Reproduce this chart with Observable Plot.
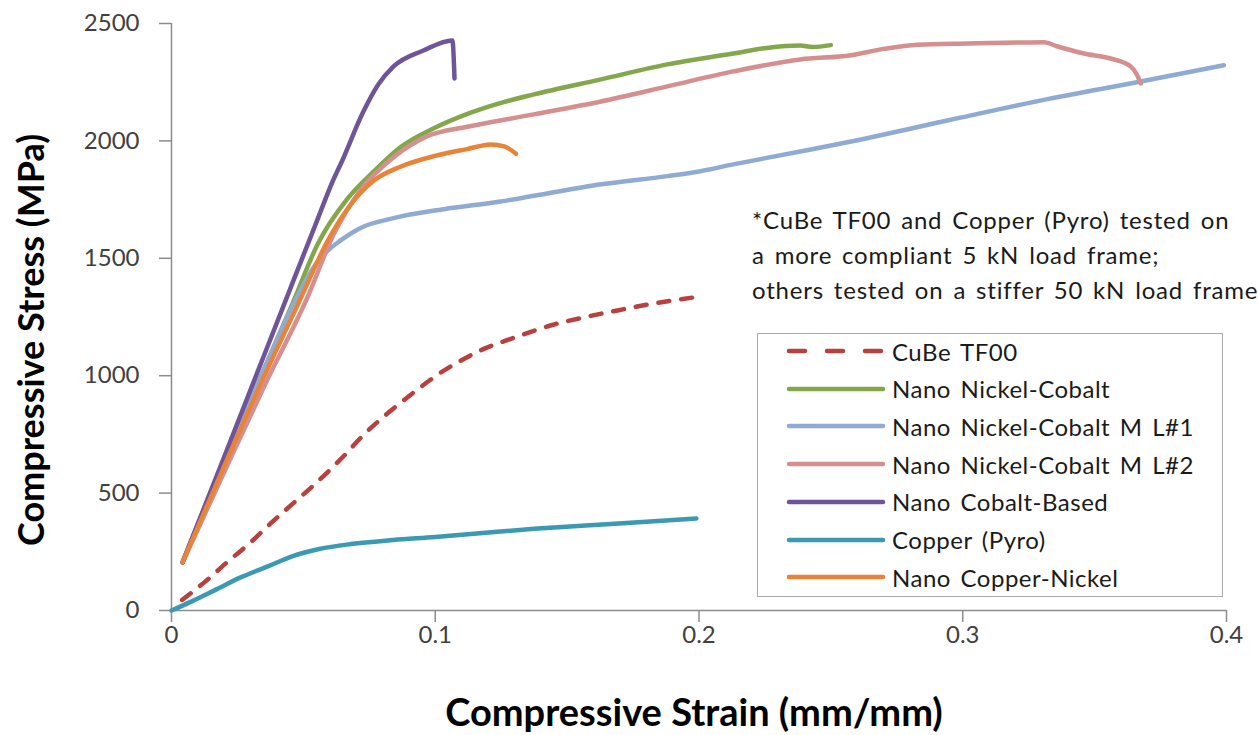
<!DOCTYPE html>
<html><head><meta charset="utf-8">
<script src="https://cdn.jsdelivr.net/npm/d3@7"></script>
<script src="https://cdn.jsdelivr.net/npm/@observablehq/plot@0.6"></script>
<style>
body{margin:0;background:#fff;}
#wrap{position:relative;width:1258px;height:735px;overflow:hidden;font-family:Lato,"Open Sans",sans-serif;}
#note{position:absolute;left:752px;top:202px;font-size:24px;line-height:35px;letter-spacing:0.8px;word-spacing:3px;color:#1a1a1a;white-space:nowrap;}
#legend{position:absolute;left:757px;top:333px;width:464px;height:262px;border:1.5px solid #a9a9a9;background:#fff;}
.li{position:absolute;left:0;height:30px;display:flex;align-items:center;font-size:24px;letter-spacing:0.5px;word-spacing:3px;color:#1a1a1a;white-space:nowrap;}
.li svg{margin-left:28px;margin-right:6px;}
</style></head><body><div id="wrap"></div>
<script>
const seriesNames = ["CuBe TF00","Nano Nickel-Cobalt","Nano Nickel-Cobalt M L#1","Nano Nickel-Cobalt M L#2","Nano Cobalt-Based","Copper (Pyro)","Nano Copper-Nickel"];
const seriesColors = ["#b8413f","#83a74a","#8faad3","#d58f8f","#6f5597","#3b9ab2","#e8843a"];
const xTicks = [0,0.1,0.2,0.3,0.4];
const yTicks = [0,500,1000,1500,2000,2500];
const xTitle = "Compressive Strain (mm/mm)";
const yTitle = "Compressive Stress (MPa)";
const noteLines = ["*CuBe TF00 and Copper (Pyro) tested on","a more compliant 5 kN load frame;","others tested on a stiffer 50 kN load frame"];

const cubeStrain  = [0.004,0.013,0.021,0.030,0.038,0.046,0.055,0.0655,0.073,0.0825,0.092,0.101,0.109,0.118,0.130,0.144,0.157,0.170,0.183,0.199];
const cubeStress  = [45,125,205,290,375,455,545,660,750,845,930,1005,1060,1112,1162,1215,1250,1280,1308,1335];

const nicoStrain  = [0.0042,0.020,0.034,0.046,0.0554,0.0669,0.0768,0.087,0.0995,0.1122,0.1249,0.1374,0.1628,0.188,0.213,0.2258,0.2384,0.243,0.25];
const nicoStress  = [205,640,1000,1310,1560,1756,1871,1975,2054,2115,2162,2198,2262,2326,2372,2396,2406,2400,2408];

const ml1Strain   = [0.0042,0.020,0.034,0.046,0.055,0.060,0.064,0.0717,0.0842,0.1032,0.1248,0.1374,0.163,0.188,0.200,0.213,0.2384,0.261,0.2954,0.333,0.366,0.399];
const ml1Stress   = [205,640,1000,1300,1480,1540,1575,1629,1671,1709,1742,1766,1815,1850,1870,1900,1955,2005,2090,2180,2250,2322];

const ml2Strain   = [0.0042,0.020,0.036,0.0516,0.0614,0.0717,0.0842,0.097,0.1122,0.1374,0.1628,0.188,0.213,0.2384,0.2576,0.270,0.283,0.302,0.321,0.3308,0.336,0.346,0.356,0.3637,0.366,0.3675];
const ml2Stress   = [205,590,975,1335,1600,1790,1930,2020,2060,2113,2168,2232,2296,2347,2365,2392,2410,2415,2419,2420,2402,2372,2351,2317,2283,2245];

const coStrain    = [0.0042,0.020,0.0313,0.045,0.055,0.061,0.0645,0.0728,0.0784,0.0842,0.0955,0.1065,0.1073];
const coStress    = [205,655,978,1370,1655,1825,1910,2126,2240,2317,2385,2428,2266];

const cuStrain    = [0,0.0079,0.017,0.026,0.037,0.046,0.056,0.068,0.084,0.10,0.118,0.1375,0.157,0.177,0.199];
const cuStress    = [0,40,90,140,190,232,262,283,300,313,330,348,362,376,392];

const cuniStrain  = [0.0042,0.020,0.034,0.049,0.059,0.0667,0.0766,0.0868,0.0995,0.112,0.121,0.1262,0.1306];
const cuniStress  = [205,615,970,1330,1570,1710,1830,1890,1935,1965,1985,1977,1945];

const strains = [cubeStrain,nicoStrain,ml1Strain,ml2Strain,coStrain,cuStrain,cuniStrain];
const stresses = [cubeStress,nicoStress,ml1Stress,ml2Stress,coStress,cuStress,cuniStress];

const rows = [];
seriesNames.forEach((name,i)=>{
  strains[i].forEach((s,j)=>rows.push({series:name, strain:s, stress:stresses[i][j]}));
});

const lineMarks = seriesNames.map((name,i)=>Plot.line(rows.filter(r=>r.series===name),{
  x:"strain", y:"stress", stroke: seriesColors[i], strokeWidth:4.5,
  strokeLinecap:"round", strokeLinejoin:"round", curve:"monotone-x",
  strokeDasharray: i===0 ? "11,12" : null
}));

const chart = Plot.plot({
  width:1258, height:735,
  marginLeft:171, marginRight:32, marginTop:23, marginBottom:125,
  style:{fontFamily:"Lato, 'Open Sans', sans-serif", color:"#404040", background:"#fff"},
  x:{domain:[0,0.4]},
  y:{domain:[0,2500]},
  marks:[
    Plot.ruleY([0],{stroke:"#8c8c8c",strokeWidth:1.5}),
    Plot.ruleX([0],{stroke:"#8c8c8c",strokeWidth:1.5}),
    Plot.axisX({ticks:xTicks, tickFormat:d=>String(d), tickSize:12, tickPadding:3, stroke:"#8c8c8c", strokeWidth:1.5, fontSize:24, label:null}),
    Plot.axisY({ticks:yTicks, tickFormat:d=>String(d), tickSize:12, tickPadding:20, stroke:"#8c8c8c", strokeWidth:1.5, fontSize:24, label:null}),
    ...lineMarks
  ]
});
const wrap = document.getElementById("wrap");
chart.style.position="absolute"; chart.style.left="0"; chart.style.top="0";
wrap.appendChild(chart);

const svg = d3.select(chart);
svg.append("text").text(xTitle)
  .attr("x",694).attr("y",726).attr("text-anchor","middle")
  .attr("font-size",38).attr("font-weight","bold").attr("fill","#000");
svg.append("text").text(yTitle)
  .attr("transform","translate(44,340) rotate(-90)").attr("text-anchor","middle")
  .attr("font-size",36).attr("font-weight","bold").attr("fill","#000");

const note = document.createElement("div");
note.id="note";
note.innerHTML=noteLines.join("<br>");
wrap.appendChild(note);

const leg = document.createElement("div");
leg.id="legend";
seriesNames.forEach((name,i)=>{
  const d = document.createElement("div");
  d.className="li";
  d.style.top=(2+i*37.7)+"px";
  const dash = i===0 ? 'stroke-dasharray="16,22"' : '';
  d.innerHTML=`<svg width="100" height="10"><line x1="3" y1="5" x2="97" y2="5" stroke="${seriesColors[i]}" stroke-width="4.5" stroke-linecap="round" ${dash}/></svg><span></span>`;
  d.querySelector("span").textContent=name;
  leg.appendChild(d);
});
wrap.appendChild(leg);
</script>
</body></html>
